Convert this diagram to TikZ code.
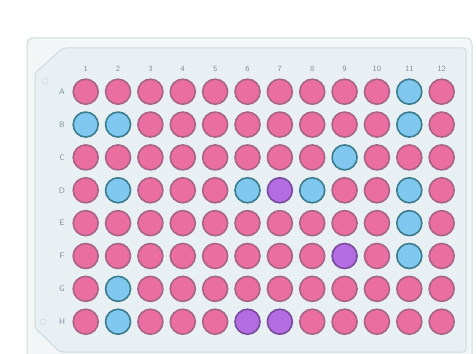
\documentclass[tikz,border=0pt]{standalone}
\usepackage{tikz}
\usetikzlibrary{positioning}
\definecolor{platefill}{RGB}{242,246,247}
\definecolor{platein}{RGB}{233,240,243}
\definecolor{plateedge}{RGB}{205,218,224}
\definecolor{pinkfill}{RGB}{234,110,160}
\definecolor{pinkedge}{RGB}{166,100,136}
\definecolor{bluefill}{RGB}{128,200,240}
\definecolor{blueedge}{RGB}{58,124,140}
\definecolor{purplefill}{RGB}{180,108,226}
\definecolor{purpleedge}{RGB}{120,74,156}
\definecolor{labelgray}{RGB}{130,144,156}
\tikzset{
  well/.style={circle, line width=1.6pt, minimum size=25pt, inner sep=0pt},
  wpk/.style={well, draw=pinkedge, fill=pinkfill},
  wbl/.style={well, draw=blueedge, fill=bluefill},
  wpu/.style={well, draw=purpleedge, fill=purplefill},
  lbl/.style={font=\fontsize{8}{8}\sffamily, text=labelgray, inner sep=0pt},
  mark hole/.style={circle, draw=plateedge, line width=0.6pt, minimum size=6pt, inner sep=0pt}
}
\begin{document}
\begin{tikzpicture}[x=1pt, y=-1pt]
  \useasboundingbox (0,0) rectangle (476,353);
  \clip (0,0) rectangle (476,353);
  % plate
  \draw[plateedge, fill=platefill, line width=1pt, rounded corners=6pt] (27,38) rectangle (472,365);
  \draw[plateedge, fill=platein, line width=1pt, rounded corners=3pt]
    (35,73) -- (63,48) -- (466,48) -- (466,352) -- (60,352) -- (35,328) -- cycle;
  \node[mark hole] (holeA) at (45,81) {};
  \node[mark hole] (holeH) at (43,322) {};
  % column numbers
  \foreach \c in {1,...,12}
    \node[lbl] (col\c) at ({85.7+(\c-1)*32.36}, 69) {\c};
  % wells, row by row
  \foreach \rlab/\codes [count=\r] in {
      A/{wpk,wpk,wpk,wpk,wpk,wpk,wpk,wpk,wpk,wpk,wbl,wpk},
      B/{wbl,wbl,wpk,wpk,wpk,wpk,wpk,wpk,wpk,wpk,wbl,wpk},
      C/{wpk,wpk,wpk,wpk,wpk,wpk,wpk,wpk,wbl,wpk,wpk,wpk},
      D/{wpk,wbl,wpk,wpk,wpk,wbl,wpu,wbl,wpk,wpk,wbl,wpk},
      E/{wpk,wpk,wpk,wpk,wpk,wpk,wpk,wpk,wpk,wpk,wbl,wpk},
      F/{wpk,wpk,wpk,wpk,wpk,wpk,wpk,wpk,wpu,wpk,wbl,wpk},
      G/{wpk,wbl,wpk,wpk,wpk,wpk,wpk,wpk,wpk,wpk,wpk,wpk},
      H/{wpk,wbl,wpk,wpk,wpk,wpu,wpu,wpk,wpk,wpk,wpk,wpk}} {
    \node[lbl] (row\rlab) at (62, {91.7+(\r-1)*32.86}) {\rlab};
    \foreach \k [count=\c] in \codes
      \node[\k] (\rlab\c) at ({85.7+(\c-1)*32.36}, {91.7+(\r-1)*32.86}) {};
  }
\end{tikzpicture}
\end{document}
